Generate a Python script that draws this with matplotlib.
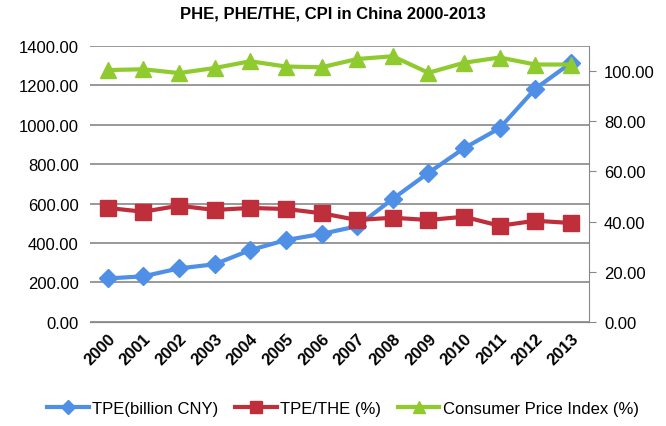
import matplotlib.pyplot as plt

years = ['2000', '2001', '2002', '2003', '2004', '2005', '2006',
         '2007', '2008', '2009', '2010', '2011', '2012', '2013']
tpe = [220, 231, 271, 292, 364, 415, 446, 485, 624, 756, 881, 983, 1183, 1314]
tpe_the = [45.4, 43.9, 46.3, 44.6, 45.4, 45.0, 43.3, 40.6, 41.5, 40.6, 41.9, 38.3, 40.3, 39.4]
cpi = [100.4, 100.7, 99.2, 101.2, 103.9, 101.8, 101.5, 104.8, 105.9, 99.3, 103.3, 105.4, 102.6, 102.6]

plt.rcParams['font.family'] = ['Liberation Sans', 'DejaVu Sans']

fig = plt.figure(figsize=(6.66, 4.27), dpi=100)
ax = fig.add_axes([0.135, 0.244, 0.749, 0.646])
ax2 = ax.twinx()

x = list(range(len(years)))
blue, red, green = '#4F8FE6', '#BE2F3B', '#8FCB2E'

# blue on left axis, red + green on right axis (drawn on top, like Excel)
l1, = ax.plot(x, tpe, color=blue, lw=3, marker='D', ms=9, label='TPE(billion CNY)', zorder=3)
l2, = ax2.plot(x, tpe_the, color=red, lw=3, marker='s', ms=11, label='TPE/THE (%)', zorder=3)
l3, = ax2.plot(x, cpi, color=green, lw=3, marker='^', ms=11, label='Consumer Price Index (%)', zorder=3)

ax.set_xlim(-0.5, len(years) - 0.5)
ax.set_ylim(0, 1400)
ax.set_yticks(range(0, 1401, 200))
ax.set_yticklabels([f'{v:.2f}' for v in range(0, 1401, 200)], fontsize=12)
ax2.set_ylim(0, 110)
ax2.set_yticks(range(0, 101, 20))
ax2.set_yticklabels([f'{v:.2f}' for v in range(0, 101, 20)], fontsize=12)

ax.set_xticks(x)
ax.set_xticklabels(years, rotation=45, ha='right', rotation_mode='anchor',
                   fontsize=12, fontweight='bold')
ax.tick_params(axis='x', length=0, pad=6)
ax.tick_params(axis='y', length=0, pad=8)
ax2.tick_params(axis='y', length=5, color='#888888', pad=6)

ax.grid(axis='y', color='#888888', lw=1.2)
ax.set_axisbelow(True)
for a in (ax, ax2):
    a.spines['top'].set_visible(False)
    a.spines['left'].set_visible(False)
    a.spines['right'].set_visible(False)
    a.spines['bottom'].set_color('#888888')
ax2.spines['right'].set_visible(True)
ax2.spines['right'].set_color('#888888')

fig.suptitle('PHE, PHE/THE, CPI in China 2000-2013', y=0.985, fontsize=12, fontweight='bold')
fig.legend(handles=[l1, l2, l3], loc='center', bbox_to_anchor=(0.515, 0.042), ncol=3,
           frameon=False, fontsize=12, handlelength=2.5, handletextpad=0.2, columnspacing=1.0,
           markerscale=0.8)

fig.savefig('out.png', dpi=100)
